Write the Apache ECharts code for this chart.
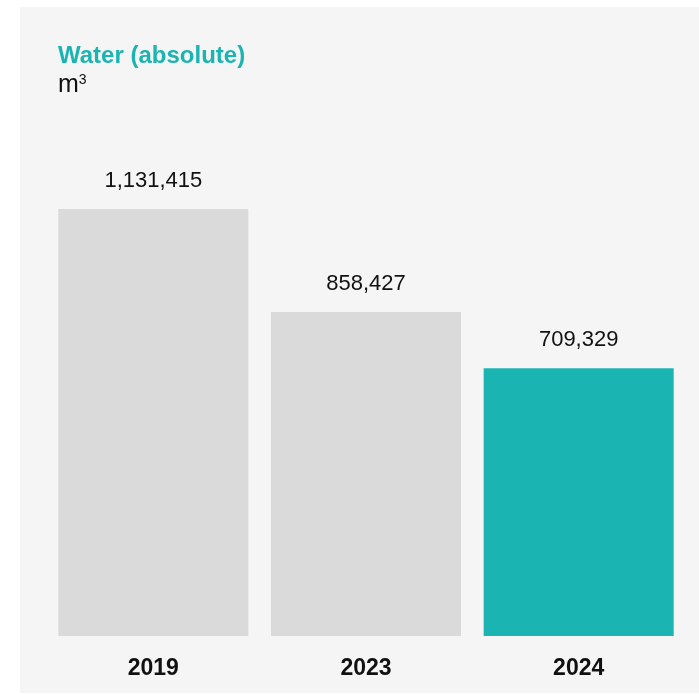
<!DOCTYPE html>
<html>
<head>
<meta charset="utf-8">
<script src="https://cdn.jsdelivr.net/npm/echarts@6/dist/echarts.min.js"></script>
<style>
  html, body { margin: 0; padding: 0; background: #ffffff; }
  #chart { width: 699px; height: 694px; }
</style>
</head>
<body>
<div id="chart"></div>
<script>
// Water withdrawal by year, in cubic metres
const years = ['2019', '2023', '2024'];
const waterValues = [1131415, 858427, 709329];
const barColors = ['#dadada', '#dadada', '#1ab4b3'];

const chart = echarts.init(document.getElementById('chart'), null, { renderer: 'canvas' });

const fmt = v => v.toLocaleString('en-US');

chart.setOption({
  backgroundColor: '#ffffff',
  animation: false,
  graphic: [
    {
      type: 'rect',
      silent: true,
      z: -10,
      shape: { x: 20, y: 7, width: 679, height: 686 },
      style: { fill: '#f5f5f5' }
    }
  ],
  title: {
    left: 53,
    top: 39,
    text: 'Water (absolute)',
    subtext: '{u|m}{s|3}',
    itemGap: 5,
    textStyle: {
      fontFamily: 'Liberation Sans, Arial, sans-serif',
      fontWeight: 'bold',
      fontSize: 24,
      color: '#1ab4b3'
    },
    subtextStyle: {
      rich: {
        u: { fontFamily: 'Liberation Sans, Arial, sans-serif', fontSize: 25, color: '#111111', verticalAlign: 'bottom' },
        s: { fontFamily: 'Liberation Sans, Arial, sans-serif', fontSize: 14, color: '#111111', verticalAlign: 'top', padding: [0, 0, 10, 0] }
      }
    }
  },
  grid: { left: 47, right: 14, top: 70, bottom: 58 },
  xAxis: {
    type: 'category',
    data: years,
    axisLine: { show: false },
    axisTick: { show: false },
    axisLabel: {
      margin: 21,
      fontFamily: 'Liberation Sans, Arial, sans-serif',
      fontWeight: 'bold',
      fontSize: 23,
      color: '#111111'
    }
  },
  yAxis: {
    type: 'value',
    min: 0,
    max: 1500000,
    show: false,
    splitLine: { show: false }
  },
  series: [
    {
      type: 'bar',
      barWidth: 190,
      data: waterValues.map((v, i) => ({ value: v, itemStyle: { color: barColors[i] } })),
      label: {
        show: true,
        position: 'top',
        distance: 17,
        formatter: p => fmt(p.value),
        fontFamily: 'Liberation Sans, Arial, sans-serif',
        fontSize: 22,
        color: '#111111'
      }
    }
  ]
});
</script>
</body>
</html>
